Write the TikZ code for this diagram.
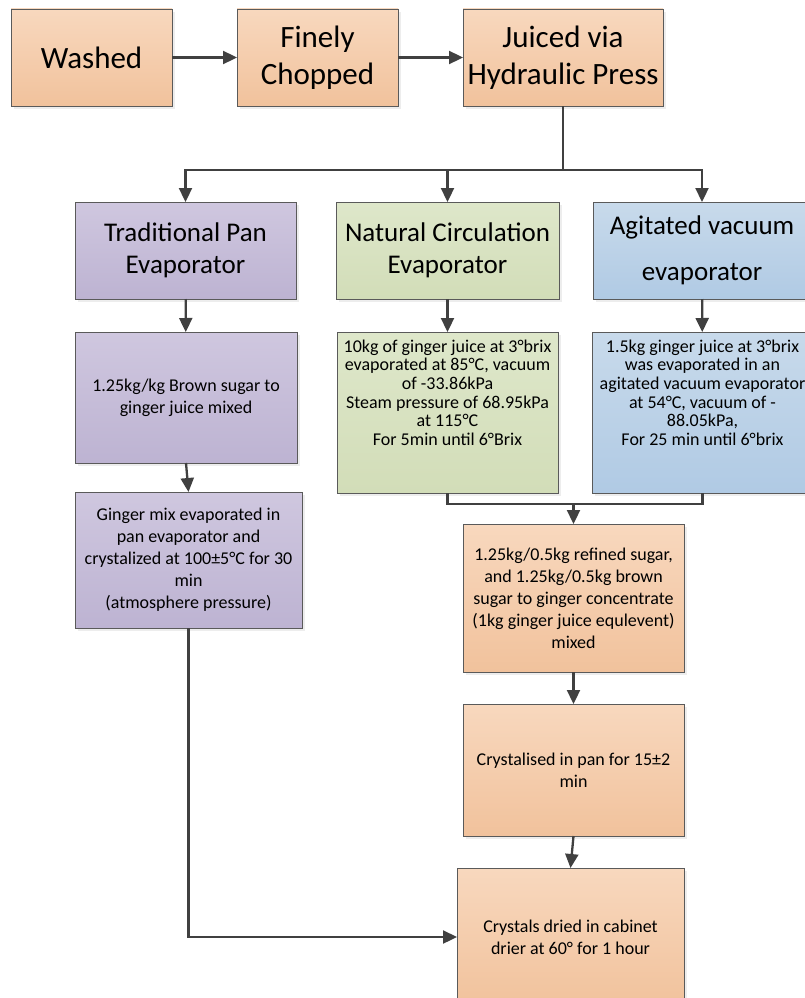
\documentclass[tikz,border=0pt]{standalone}
\usepackage{fontspec}
\setmainfont{Carlito}
\usepackage{xcolor}
\usepackage{tikz}
\usetikzlibrary{arrows.meta,shadows}

\definecolor{edgegray}{HTML}{5A5A5A}
\definecolor{flowgray}{HTML}{404040}
\definecolor{orangetop}{HTML}{F8D8BE}
\definecolor{orangebot}{HTML}{F1C29C}
\definecolor{purpletop}{HTML}{CFC7DF}
\definecolor{purplebot}{HTML}{BDB3D2}
\definecolor{greentop}{HTML}{DEE7CA}
\definecolor{greenbot}{HTML}{D2DDB8}
\definecolor{bluetop}{HTML}{C8DAEB}
\definecolor{bluebot}{HTML}{B0CAE4}

\tikzset{
  box/.style={draw=edgegray, line width=0.9pt, inner sep=0pt, outer sep=0pt,
    align=center, text=black,
    drop shadow={shadow xshift=3pt, shadow yshift=-3pt, fill=black!14}},
  orangebox/.style={box, top color=orangetop, bottom color=orangebot},
  purplebox/.style={box, top color=purpletop, bottom color=purplebot},
  greenbox/.style={box, top color=greentop, bottom color=greenbot},
  bluebox/.style={box, top color=bluetop, bottom color=bluebot},
  bigtext/.style={font=\fontsize{31}{37}\selectfont},
  midtext/.style={font=\fontsize{27}{32.5}\selectfont},
  smalltext/.style={font=\fontsize{18}{22}\selectfont},
  flow/.style={draw=flowgray, line width=2.3pt, -{Triangle[length=14pt,width=13pt]}},
  joinline/.style={draw=flowgray, line width=2.3pt}
}

\begin{document}
\begin{tikzpicture}[x=1pt, y=-1pt]
      \useasboundingbox (0,0) rectangle (805,998);

      % Preparation
      \node[orangebox, bigtext, minimum width=161, minimum height=97] (washed) at (91.5,57.5) {Washed};
      \node[orangebox, bigtext, minimum width=161, minimum height=97] (chopped) at (317.5,57.5) {Finely\\Chopped};
      \node[orangebox, bigtext, minimum width=200, minimum height=97] (juiced) at (563,57.5) {Juiced via\\Hydraulic Press};

      % Evaporators
      \node[purplebox, midtext, minimum width=221, minimum height=97] (tradpan) at (185.5,250.5) {Traditional Pan\\Evaporator};
      \node[greenbox, midtext, minimum width=223, minimum height=97] (natcirc) at (447.5,250.5) {Natural Circulation\\Evaporator};
      \node[bluebox, font=\fontsize{27}{46}\selectfont, minimum width=218, minimum height=97] (agitated) at (702,250.5) {Agitated vacuum\\evaporator};

      % Conditions
      \node[purplebox, smalltext, minimum width=222, minimum height=131] (brown) at (186,397.5) {1.25kg/kg Brown sugar to\\ginger juice mixed};
      \node[greenbox, font=\fontsize{18}{18.7}\selectfont, text depth=40pt, minimum width=221, minimum height=161] (natdata) at (447.5,412.5)
        {10kg of ginger juice at 3°brix\\evaporated at 85°C, vacuum\\of -33.86kPa\\Steam pressure of 68.95kPa\\at 115°C\\For 5min until 6°Brix};
      \node[bluebox, font=\fontsize{18}{18.7}\selectfont, text depth=40pt, minimum width=221, minimum height=161] (agitdata) at (702.5,412.5)
        {1.5kg ginger juice at 3°brix\\was evaporated in an\\agitated vacuum evaporator\\at 54°C, vacuum of -\\88.05kPa,\\For 25 min until 6°brix};
      \node[purplebox, smalltext, minimum width=227, minimum height=136] (ginger) at (188.5,560)
        {Ginger mix evaporated in\\pan evaporator and\\crystalized at 100±5°C for 30\\min\\(atmosphere pressure)};

      % Sugar and drying
      \node[orangebox, smalltext, minimum width=221, minimum height=148] (sugarmix) at (573.5,598)
        {1.25kg/0.5kg refined sugar,\\and 1.25kg/0.5kg brown\\sugar to ginger concentrate\\(1kg ginger juice equlevent)\\mixed};
      \node[orangebox, smalltext, minimum width=221, minimum height=132] (crystal) at (573.5,770) {Crystalised in pan for 15±2\\min};
      \node[orangebox, smalltext, minimum width=227, minimum height=138] (dried) at (570.5,937) {Crystals dried in cabinet\\drier at 60° for 1 hour};

      % Connectors
      \coordinate (split) at (563,170);
      \coordinate (merge) at (573.5,504);
      \draw[flow] (washed) -- (chopped);
      \draw[flow] (chopped) -- (juiced);
      \draw[joinline] (juiced.south) -- (split);
      \draw[flow] (split) -| (tradpan.north);
      \draw[flow] (split) -| (natcirc.north);
      \draw[flow] (split) -| (agitated.north);
      \draw[flow] (tradpan) -- (brown);
      \draw[flow] (natcirc) -- (natdata);
      \draw[flow] (agitated) -- (agitdata);
      \draw[flow] (brown.south) -- (ginger.north);
      \draw[joinline] (natdata.south) |- (merge) -| (agitdata.south);
      \draw[flow] (merge) -- (sugarmix.north);
      \draw[flow] (sugarmix) -- (crystal);
      \draw[flow] (crystal.south) -- (dried.north);
      \draw[flow] (ginger.south) |- (dried.west);
    \end{tikzpicture}
\end{document}
